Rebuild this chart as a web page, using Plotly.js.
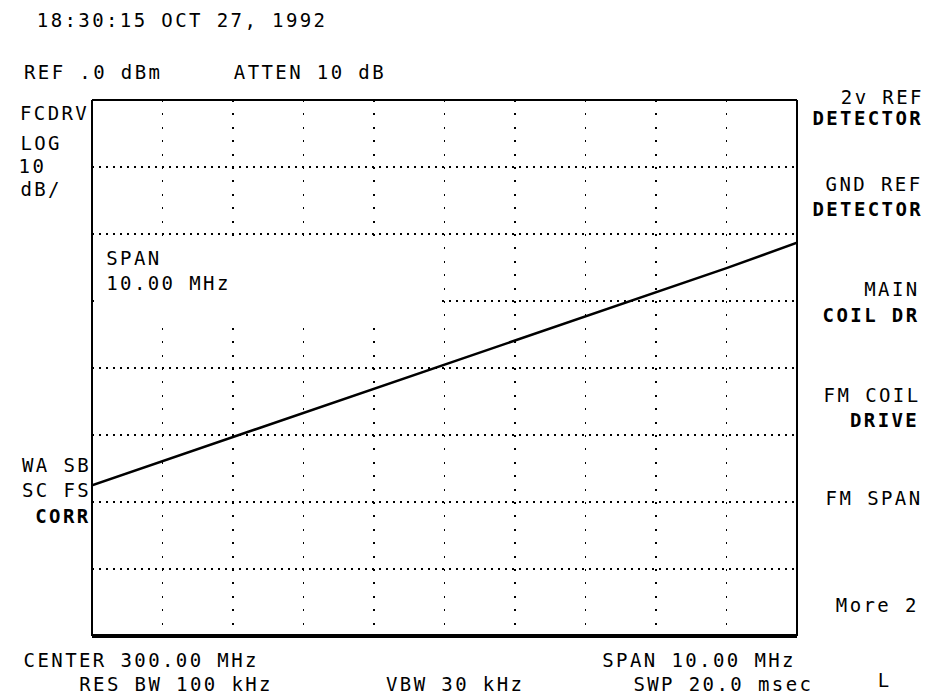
<!DOCTYPE html>
<html>
<head>
<meta charset="utf-8">
<script src="https://cdn.plot.ly/plotly-3.0.1.min.js"></script>
<style>
html,body{margin:0;padding:0;background:#fff;}
#chart{width:928px;height:694px;}
#chart .annotation-text{letter-spacing:2.4px;}
</style>
</head>
<body>
<div id="chart"></div>
<script>
// Frequency (MHz) at each horizontal division, and trace level (dBm)
const freqMHz = [295, 296, 297, 298, 299, 300, 301, 302, 303, 304, 305];
const levelDbm = [-57.5, -53.9, -50.3, -46.7, -43.1, -39.4, -35.8, -32.2, -28.7, -25.1, -21.3];

const headerText = "18:30:15 OCT 27, 1992";
const refText = "REF .0 dBm";
const attenText = "ATTEN 10 dB";
const leftLabels = ["FCDRV", "LOG", "10", "dB/"];
const spanLabels = ["SPAN", "10.00 MHz"];
const leftLower = ["WA SB", "SC FS", "CORR"];
const bottomLabels = ["CENTER 300.00 MHz", "RES BW 100 kHz", "VBW 30 kHz", "SPAN 10.00 MHz", "SWP 20.0 msec", "L"];
const softkeys = [["2v REF", "DETECTOR"], ["GND REF", "DETECTOR"], ["MAIN", "COIL DR"], ["FM COIL", "DRIVE"], ["FM SPAN"], ["More 2"]];

const W = 928, H = 694;
const L = 92, R = 797, T = 100, B = 636;
const X0 = 295, X1 = 305, Y0 = -80, Y1 = 0;
const px = x => (x - L) / (R - L);
const py = y => (B - y) / (B - T);
const dx = x => X0 + px(x) * (X1 - X0);
const dy = y => Y0 + py(y) * (Y1 - Y0);
const FONT = "DejaVu Sans Mono, Liberation Mono, monospace";

// x0/x1: left and right pixel extent of the label; centred between them
function ann(text, x0, x1, y, bold) {
  return {
    text: bold ? "<b>" + text + "</b>" : text,
    xref: "paper", yref: "paper",
    x: px((x0 + x1) / 2 + 1.2), y: py(y),
    xanchor: "center", yanchor: "middle",
    showarrow: false, borderpad: 0,
    font: {family: FONT, size: 19, color: "#000"}
  };
}

const annotations = [
  ann(headerText, 36, 325, 20),
  ann(refText, 18, 165, 72),
  ann(attenText, 232, 385, 72),
  ann(leftLabels[0], 18, 88, 113),
  ann(leftLabels[1], 18, 61, 143),
  ann(leftLabels[2], 18, 45, 166),
  ann(leftLabels[3], 18, 61, 189),
  ann(spanLabels[0], 105, 160, 258),
  ann(spanLabels[1], 105, 230, 283),
  ann(leftLower[0], 20, 90, 465),
  ann(leftLower[1], 20, 90, 490),
  ann(leftLower[2], 36, 88, 516, true),
  ann(bottomLabels[0], 22, 258, 660),
  ann(bottomLabels[1], 65, 285, 684),
  ann(bottomLabels[2], 382, 525, 684),
  ann(bottomLabels[3], 600, 795, 660),
  ann(bottomLabels[4], 634, 811, 684),
  ann(bottomLabels[5], 878, 888, 680),
  ann(softkeys[0][0], 840, 922, 97),
  ann(softkeys[0][1], 812, 922, 118, true),
  ann(softkeys[1][0], 823, 922, 184),
  ann(softkeys[1][1], 812, 922, 209, true),
  ann(softkeys[2][0], 860, 922, 289),
  ann(softkeys[2][1], 818, 922, 315, true),
  ann(softkeys[3][0], 820, 922, 395),
  ann(softkeys[3][1], 845, 922, 420, true),
  ann(softkeys[4][0], 823, 922, 498),
  ann(softkeys[5][0], 830, 922, 605)
];

const shapes = [
  // graticule blanked behind the SPAN readout block
  {type: "rect", xref: "x", yref: "y", layer: "between",
   x0: dx(94), x1: dx(440), y0: dy(322), y1: dy(242),
   fillcolor: "#fff", line: {width: 0}},
  {type: "line", xref: "paper", yref: "paper", x0: 0, x1: 1, y0: 1, y1: 1, line: {color: "#000", width: 2}},
  {type: "line", xref: "paper", yref: "paper", x0: 0, x1: 0, y0: 0, y1: 1, line: {color: "#000", width: 2}},
  {type: "line", xref: "paper", yref: "paper", x0: 1, x1: 1, y0: 0, y1: 1, line: {color: "#000", width: 2}},
  {type: "line", xref: "paper", yref: "paper", x0: 0, x1: 1, y0: 0, y1: 0, line: {color: "#000", width: 4}}
];

const trace = {
  x: freqMHz, y: levelDbm, type: "scatter", mode: "lines",
  line: {color: "#000", width: 2.5}, hoverinfo: "skip"
};

const layout = {
  width: W, height: H,
  margin: {l: L, r: W - R, t: T, b: H - B, pad: 0},
  paper_bgcolor: "#fff", plot_bgcolor: "#fff",
  showlegend: false,
  xaxis: {range: [X0, X1], dtick: 1, tick0: 295, showticklabels: false, ticks: "",
          showgrid: true, gridcolor: "#000", gridwidth: 1.5, griddash: "2px,11.4px",
          zeroline: false, showline: false, fixedrange: true},
  yaxis: {range: [Y0, Y1], dtick: 10, tick0: 0, showticklabels: false, ticks: "",
          showgrid: true, gridcolor: "#000", gridwidth: 1.5, griddash: "1.5px,5.5px",
          zeroline: false, showline: false, fixedrange: true},
  annotations: annotations,
  shapes: shapes
};

Plotly.newPlot("chart", [trace], layout, {staticPlot: true, displayModeBar: false});
</script>
</body>
</html>
